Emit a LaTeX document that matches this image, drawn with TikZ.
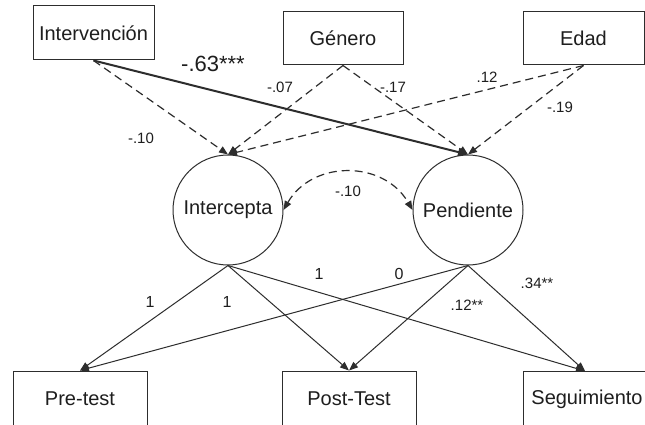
\documentclass[tikz,border=0pt]{standalone}
\usepackage{fontspec}
\setmainfont{Liberation Sans}
\usetikzlibrary{arrows.meta}
\definecolor{linec}{RGB}{45,45,45}
\definecolor{txtc}{RGB}{30,30,30}
\begin{document}
\begin{tikzpicture}[x=1pt,y=-1pt,
  box/.style={draw=linec, line width=1pt, rectangle, inner sep=0pt, font=\fontsize{20}{20}\selectfont, text=txtc},
  lat/.style={draw=linec, line width=1pt, circle, inner sep=0pt, minimum size=110pt, font=\fontsize{20}{20}\selectfont, text=txtc},
  conn/.style={draw=linec, line width=1pt, -{Triangle[length=9pt,width=7pt]}},
  thickconn/.style={conn, line width=2pt, -{Triangle[length=10pt,width=8pt]}},
  dsh/.style={conn, line width=1.2pt, dash pattern=on 8pt off 5pt},
  lbl/.style={font=\fontsize{15}{15}\selectfont, inner sep=0pt, text=txtc},
  numl/.style={font=\fontsize{16}{16}\selectfont, inner sep=0pt, text=txtc},
  ]
\path[use as bounding box, clip] (0,0) rectangle (645,425);
\fill[white] (0,0) rectangle (645,425);

% top boxes
\node[box, minimum width=121pt, minimum height=54pt] (int) at (93.5,33) {Intervención};
\node[box, minimum width=120pt, minimum height=53pt] (gen) at (343,38.5) {Género};
\node[box, minimum width=121pt, minimum height=53pt] (eda) at (583.5,38.5) {Edad};

% latent factors
\node[lat] (ic) at (228,210) {Intercepta};
\node[lat] (pe) at (468,210) {Pendiente};

% bottom boxes
\node[box, minimum width=134pt, minimum height=56pt] (pre) at (80,399) {Pre-test};
\node[box, minimum width=134pt, minimum height=56pt] (post) at (349,399) {Post-Test};
\node[box, minimum width=128pt, minimum height=56pt] (seg) at (587,399) {Seguimiento};
\coordinate (segt) at (585,371);

% predictors -> latents
\draw[dsh] (int.south) -- (ic.north);
\draw[thickconn] (int.south) -- (pe.north);
\draw[dsh] (gen.south) -- (ic.north);
\draw[dsh] (gen.south) -- (pe.north);
\draw[dsh] (eda.south) -- (ic.north);
\draw[dsh] (eda.south) -- (pe.north);

% covariance
\draw[dsh, {Triangle[length=9pt,width=7pt]}-{Triangle[length=9pt,width=7pt]}]
  (ic.east) to[out=60,in=120,looseness=1.15] (pe.west);

% loadings
\draw[conn] (ic.south) -- (pre.north);
\draw[conn] (ic.south) -- (post.north);
\draw[conn] (ic.south) -- (segt);
\draw[conn] (pe.south) -- (pre.north);
\draw[conn] (pe.south) -- (post.north);
\draw[conn] (pe.south) -- (segt);

% labels
\node[font=\fontsize{22}{22}\selectfont, inner sep=0pt, text=txtc] (l63) at (213,64) {-.63***};
\node[lbl] (l10a) at (141,138) {-.10};
\node[lbl] (l07) at (280,87) {-.07};
\node[lbl] (l17) at (393,87) {-.17};
\node[lbl] (l12) at (487,77) {.12};
\node[lbl] (l19) at (560,107) {-.19};
\node[lbl] (l10b) at (348,191) {-.10};
\node[numl] (n1a) at (150,302) {1};
\node[numl] (n1b) at (227,302) {1};
\node[numl] (n1c) at (319,274) {1};
\node[numl] (n0) at (399,274) {0};
\node[lbl] (l12b) at (467,305) {.12**};
\node[lbl] (l34) at (537,283) {.34**};
\end{tikzpicture}
\end{document}
